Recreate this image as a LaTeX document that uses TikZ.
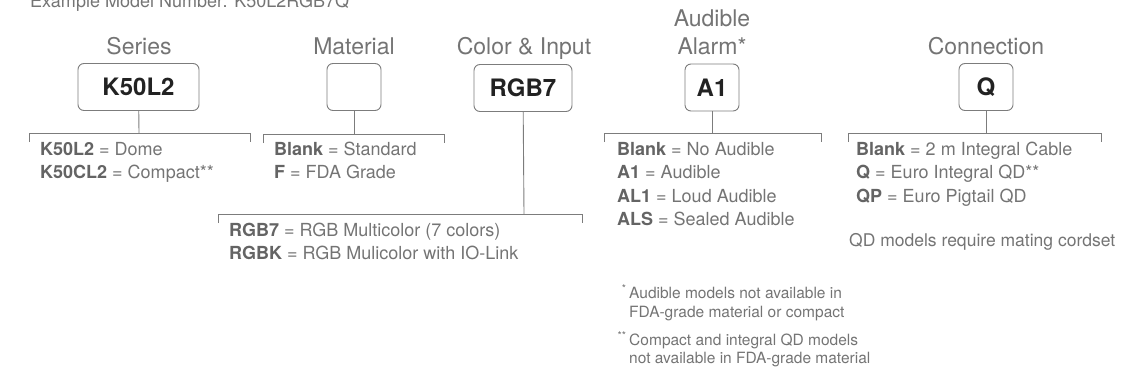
\documentclass[tikz,border=0pt]{standalone}
\usepackage{fontspec}
\setmainfont{TeX Gyre Heros}
\usetikzlibrary{positioning,calc}
\usepackage{xcolor}
\definecolor{labelgray}{HTML}{747474}
\definecolor{codegray}{HTML}{646464}
\definecolor{linegray}{HTML}{7C7C7C}
\definecolor{boxtext}{HTML}{222222}
\newcommand{\code}[1]{{\bfseries\color{codegray}#1}}

\begin{document}
\begin{tikzpicture}[x=1pt,y=-1pt,
  codebox/.style={draw=linegray,line width=0.9pt,rounded corners=6pt,minimum height=47pt,
    inner sep=0pt,text=boxtext,font=\fontsize{24}{24}\bfseries\selectfont},
  field/.style={anchor=base,text=labelgray,font=\fontsize{23}{23}\selectfont},
  option/.style={anchor=base west,inner sep=0pt,text=labelgray,font=\fontsize{18}{20}\selectfont},
  note/.style={anchor=base west,inner sep=0pt,text=labelgray,font=\fontsize{15.5}{18}\selectfont},
  bracket/.style={draw=linegray,line width=0.9pt}]
  \useasboundingbox (0,0) rectangle (1121,377);

  % Model number
  \node[anchor=base west,inner sep=0pt,text=labelgray,font=\fontsize{18}{20}\selectfont]
    (title) at (30,8) {Example Model Number: K50L2RGB7Q};

  % Series
  \node[field] (serL) at (139,55) {Series};
  \node[codebox,minimum width=121pt] (ser) at (138.5,87) {K50L2};
  \coordinate (serB) at (139,133);
  \draw[bracket] (ser) -- (serB);
  \draw[bracket] (29,142) -- (29,133) -- (250,133) -- (250,142);
  \node[option] (ser1) at (40,155) {\code{K50L2} = Dome};
  \node[option] (ser2) at (40,178.5) {\code{K50CL2} = Compact**};

  % Material
  \node[field] (matL) at (354,55) {Material};
  \node[codebox,minimum width=54pt] (mat) at (354,87) {};
  \coordinate (matB) at (354,134);
  \draw[bracket] (mat) -- (matB);
  \draw[bracket] (263,143) -- (263,134) -- (444,134) -- (444,143);
  \node[option] (mat1) at (274,155) {\code{Blank} = Standard};
  \node[option] (mat2) at (274,178.5) {\code{F} = FDA Grade};

  % Color & Input
  \node[field] (colL) at (524,55) {Color \& Input};
  \node[codebox,minimum width=98pt] (col) at (523,88) {RGB7};
  \coordinate (colB) at (524,214);
  \draw[bracket] (col) -- (colB);
  \draw[bracket] (218,223) -- (218,214) -- (582,214) -- (582,223);
  \node[option] (col1) at (229,236) {\code{RGB7} = RGB Multicolor (7 colors)};
  \node[option] (col2) at (229,259.5) {\code{RGBK} = RGB Mulicolor with IO-Link};

  % Audible Alarm
  \node[field] (audL) at (712,27) {Audible};
  \node[field] (audL2) at (712,55) {Alarm*};
  \node[codebox,minimum width=54pt] (aud) at (712,87.5) {A1};
  \coordinate (audB) at (712,133);
  \draw[bracket] (aud) -- (audB);
  \draw[bracket] (604,142) -- (604,133) -- (821,133) -- (821,142);
  \node[option] (aud1) at (617,155) {\code{Blank} = No Audible};
  \node[option] (aud2) at (617,178.5) {\code{A1} = Audible};
  \node[option] (aud3) at (617,202) {\code{AL1} = Loud Audible};
  \node[option] (aud4) at (617,225.5) {\code{ALS} = Sealed Audible};

  % Connection
  \node[field] (conL) at (986,55) {Connection};
  \node[codebox,minimum width=54pt] (con) at (986,87) {Q};
  \coordinate (conB) at (986,133);
  \draw[bracket] (con) -- (conB);
  \draw[bracket] (848,142) -- (848,133) -- (1101,133) -- (1101,142);
  \node[option] (con1) at (856,155) {\code{Blank} = 2 m Integral Cable};
  \node[option] (con2) at (856,178.5) {\code{Q} = Euro Integral QD**};
  \node[option] (con3) at (856,202) {\code{QP} = Euro Pigtail QD};
  \node[note,font=\fontsize{17.5}{20}\selectfont] (con4) at (849,246) {QD models require mating cordset};

  % Footnotes
  \node[note] (fn1) at (629,298) {\llap{\textsuperscript{*}\,}Audible models not available in};
  \node[note] (fn1b) at (629,317) {FDA-grade material or compact};
  \node[note] (fn2) at (629,345) {\llap{\textsuperscript{**}\,}Compact and integral QD models};
  \node[note] (fn2b) at (629,363) {not available in FDA-grade material};
\end{tikzpicture}
\end{document}
